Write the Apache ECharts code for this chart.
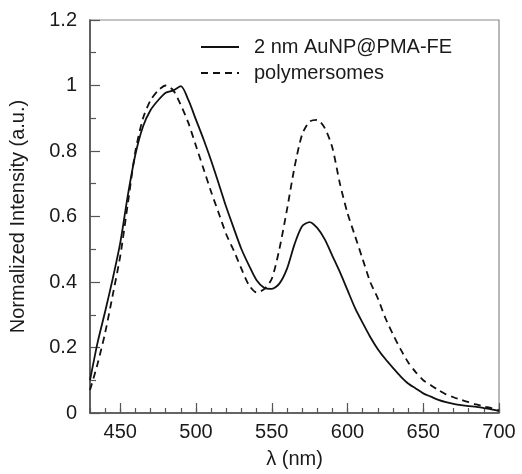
<!DOCTYPE html>
<html>
<head>
<meta charset="utf-8">
<script src="https://cdn.jsdelivr.net/npm/echarts@6/dist/echarts.min.js"></script>
<style>
html,body{margin:0;padding:0;background:#fff;}
#chart{width:522px;height:474px;}
</style>
</head>
<body>
<div id="chart"></div>
<script>
var wavelengths = [430,435,440,445,450,455,460,465,470,475,480,485,490,495,500,505,510,515,520,525,530,535,540,545,550,555,560,565,570,575,580,585,590,595,600,605,610,615,620,625,630,635,640,645,650,655,660,665,670,675,680,685,690,695,700];
var auNP = [0.10,0.215,0.31,0.41,0.52,0.665,0.79,0.875,0.925,0.955,0.978,0.985,0.998,0.955,0.895,0.835,0.77,0.70,0.628,0.563,0.50,0.45,0.405,0.382,0.379,0.395,0.44,0.515,0.57,0.583,0.565,0.53,0.48,0.43,0.375,0.32,0.275,0.232,0.195,0.165,0.138,0.112,0.09,0.075,0.06,0.05,0.04,0.033,0.028,0.024,0.021,0.019,0.015,0.011,0.006];
var polymersomes = [0.07,0.15,0.245,0.36,0.48,0.64,0.80,0.90,0.955,0.985,1.0,0.985,0.94,0.885,0.815,0.745,0.675,0.61,0.545,0.495,0.44,0.39,0.368,0.378,0.41,0.50,0.62,0.75,0.85,0.89,0.895,0.87,0.81,0.70,0.61,0.54,0.47,0.40,0.35,0.29,0.24,0.195,0.155,0.125,0.10,0.085,0.07,0.057,0.048,0.04,0.033,0.026,0.02,0.015,0.008];
var seriesNames = ['2 nm AuNP@PMA-FE','polymersomes'];
var xMajorTicks = [450,500,550,600,650,700];
var xTitle = 'λ (nm)';
var yTitle = 'Normalized Intensity (a.u.)';

function pairs(xs, ys){ return xs.map(function(x,i){ return [x, ys[i]]; }); }

var FONT = 'Liberation Sans, Arial, sans-serif';
var chart = echarts.init(document.getElementById('chart'));
chart.setOption({
  backgroundColor:'#fff',
  animation:false,
  grid:{left:89,right:23,top:20,bottom:60,show:true,borderColor:'#8a8a8a',borderWidth:1.2,containLabel:false},
  legend:{
    orient:'vertical', left:195, top:32, itemWidth:38, itemHeight:14, itemGap:6,
    data:seriesNames,
    itemStyle:{opacity:0},
    textStyle:{fontFamily:FONT,fontSize:20,color:'#1a1a1a',padding:[0,0,0,10]}
  },
  xAxis:[{
    type:'value', min:430, max:700, position:'bottom',
    name:xTitle, nameLocation:'middle', nameGap:36,
    nameTextStyle:{fontFamily:FONT,fontSize:20,color:'#1a1a1a'},
    axisLine:{show:true,lineStyle:{color:'#444',width:1.5}},
    axisTick:{show:true,inside:true,length:10,customValues:xMajorTicks,lineStyle:{color:'#555',width:1.2}},
    axisLabel:{customValues:xMajorTicks,fontFamily:FONT,fontSize:20,color:'#1a1a1a',margin:9},
    splitLine:{show:false}
  },{
    type:'value', min:430, max:700, interval:10, position:'bottom', offset:0,
    axisLine:{show:false},
    axisTick:{show:true,inside:true,length:5,lineStyle:{color:'#555',width:1.2}},
    axisLabel:{show:false},
    splitLine:{show:false}
  }],
  yAxis:{
    type:'value', min:0, max:1.2, interval:0.2,
    name:yTitle, nameLocation:'middle', nameGap:62,
    nameTextStyle:{fontFamily:FONT,fontSize:20,color:'#1a1a1a'},
    axisLine:{show:true,lineStyle:{color:'#444',width:1.5}},
    axisTick:{show:true,inside:true,length:10,lineStyle:{color:'#555',width:1.2}},
    minorTick:{show:true,splitNumber:2,length:6,lineStyle:{color:'#555',width:1.2}},
    axisLabel:{fontFamily:FONT,fontSize:20,color:'#1a1a1a',margin:13},
    splitLine:{show:false}
  },
  series:[{
    name:seriesNames[0], type:'line', xAxisIndex:0, symbol:'none', smooth:0.25,
    data:pairs(wavelengths, auNP),
    lineStyle:{color:'#111',width:1.8,type:'solid'},
    itemStyle:{color:'#111'}
  },{
    name:seriesNames[1], type:'line', xAxisIndex:0, symbol:'none', smooth:0.25,
    data:pairs(wavelengths, polymersomes),
    lineStyle:{color:'#111',width:1.8,type:[7,5]},
    itemStyle:{color:'#111'}
  }]
});
</script>
</body>
</html>
